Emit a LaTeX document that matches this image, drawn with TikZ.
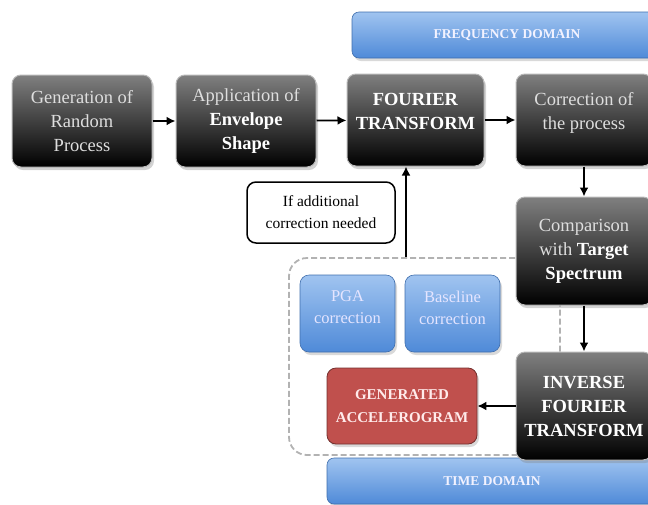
\documentclass[tikz,border=0pt]{standalone}
\usepackage{fontspec}
\setmainfont{Liberation Serif}
\usetikzlibrary{arrows.meta, shadows}
\definecolor{boxblue}{RGB}{79,138,216}
\definecolor{boxbluetop}{RGB}{160,196,240}
\definecolor{boxred}{RGB}{192,80,77}
\tikzset{>=latex}
\tikzset{
  darkbox/.style={rounded corners=9pt, draw=gray!55, line width=1pt,
    top color=black!50, bottom color=black, text=black!13, align=center,
    minimum width=140pt, minimum height=92pt,
    drop shadow={opacity=0.35, shadow xshift=2pt, shadow yshift=-3pt},
    font=\fontsize{18.5}{24}\selectfont},
  bluebox/.style={rounded corners=9pt, draw=boxblue!80!black, line width=0.6pt,
    top color=boxbluetop, bottom color=boxblue, text=white!90!blue, align=center,
    drop shadow={opacity=0.3, shadow xshift=2pt, shadow yshift=-3pt},
    font=\fontsize{16.5}{22}\selectfont},
  domainbar/.style={bluebox, rounded corners=7pt, text=white!95!blue, font=\bfseries\fontsize{13.5}{15}\selectfont},
  arrow/.style={-{Latex[length=9pt,width=9pt]}, line width=1.8pt}
}
\newcommand{\hl}[1]{\textcolor{white}{\textbf{#1}}}
\begin{document}
\begin{tikzpicture}[x=1pt, y=-1pt]
\useasboundingbox (0,0) rectangle (648,504);
% domains
\node[domainbar, minimum width=310pt, minimum height=46pt] (freq) at (507,35) {FREQUENCY DOMAIN};
\node[domainbar, minimum width=330pt, minimum height=46pt] (time) at (492,481) {TIME DOMAIN};
% correction group
\node[draw=gray!60, dashed, line width=1.8pt, dash pattern=on 6pt off 3pt, rounded corners=18pt,
  minimum width=271pt, minimum height=197pt] (group) at (424.5,356.5) {};
% top row
\node[darkbox] (generation) at (82,121) {Generation of\\Random\\Process};
\node[darkbox] (envelope) at (246,121) {Application of\\\hl{Envelope}\\\hl{Shape}};
\node[darkbox, minimum width=137pt] (fourier) at (415.5,120) {\hl{FOURIER}\\\hl{TRANSFORM}\\[-6pt]};
\node[darkbox, minimum width=136pt] (correction) at (584,120) {Correction of\\the process\\[-6pt]};
% right column
\node[darkbox, minimum width=136pt, minimum height=108pt] (comparison) at (584,251) {Comparison\\with \hl{Target}\\\hl{Spectrum}};
\node[darkbox, minimum width=136pt, minimum height=108pt] (inverse) at (584,406) {\hl{INVERSE}\\\hl{FOURIER}\\\hl{TRANSFORM}};
% inside the group
\node[bluebox, minimum width=95pt, minimum height=77pt] (pga) at (347.5,313.5) {PGA\\correction\\[-10pt]};
\node[bluebox, minimum width=95pt, minimum height=77pt] (baseline) at (452.5,313.5) {Baseline\\correction\\[-10pt]};
\node[rounded corners=9pt, draw=boxred!60!black, line width=0.8pt, fill=boxred,
  text=red!8, align=center, minimum width=150pt, minimum height=76pt,
  drop shadow={opacity=0.3, shadow xshift=2pt, shadow yshift=-3pt},
  font=\bfseries\fontsize{15}{23}\selectfont] (generated) at (402,406) {GENERATED\\ACCELEROGRAM};
% note
\node[rounded corners=9pt, draw=black, line width=1.5pt, fill=white, align=center,
  minimum width=148pt, minimum height=61pt, font=\fontsize{15.5}{22}\selectfont] (note) at (321,212.5)
  {If additional\\correction needed};
% arrows
\draw[arrow] (generation) -- (envelope);
\draw[arrow] (envelope) -- (fourier);
\draw[arrow] (fourier) -- (correction);
\draw[arrow] (correction) -- (comparison);
\draw[arrow] (comparison) -- (inverse);
\draw[arrow] (inverse) -- (generated);
\draw[arrow] ([xshift=-9.5pt]fourier.south |- group.north) -- ([xshift=-9.5pt]fourier.south);
\end{tikzpicture}
\end{document}
